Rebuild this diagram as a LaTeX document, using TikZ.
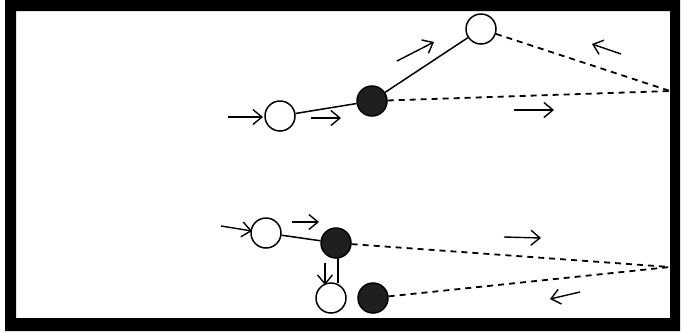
\documentclass[tikz,border=0pt]{standalone}
\usetikzlibrary{arrows.meta}
\begin{document}
\begin{tikzpicture}[x=1pt,y=-1pt,
  opencirc/.style={circle,draw=black,fill=white,line width=1.5pt,minimum size=30pt,inner sep=0pt},
  fullcirc/.style={circle,draw=black,fill=black!88,line width=1.5pt,minimum size=30pt,inner sep=0pt},
  link/.style={line width=1.5pt},
  dashlink/.style={line width=1.8pt,dash pattern=on 6pt off 5pt},
  flow/.style={line width=1.4pt,-{Straight Barb[length=9pt,width=15pt,line width=1.4pt]}}]
\useasboundingbox (0,0) rectangle (682,333);
% frame
\fill[black,even odd rule] (5,0) rectangle (680,331) (16,11) rectangle (670,318);
% top group
\node[opencirc] (a) at (280,116) {};
\node[fullcirc] (b) at (372,101) {};
\node[opencirc] (c) at (481,29) {};
\coordinate (p1) at (670,91);
\draw[link] (a) -- (b);
\draw[link] (b) -- (c);
\draw[dashlink] (b) -- (p1);
\draw[dashlink] (c) -- (p1);
\draw[flow] (228,117) -- (263,117);
\draw[flow] (311,118) -- (341,118);
\draw[flow] (397,61) -- (434,42);
\draw[flow] (621,54) -- (592,44);
\draw[flow] (514,110) -- (554,110);
% bottom group
\node[opencirc] (d) at (266,233) {};
\node[fullcirc] (e) at (336,243) {};
\node[opencirc] (f) at (331,298) {};
\node[fullcirc] (g) at (373,298) {};
\coordinate (p2) at (670,267);
\coordinate (es) at (338,258);
\coordinate (fe) at (338,283);
\draw[link] (d) -- (e);
\draw[link] (es) -- (fe);
\draw[dashlink] (e) -- (p2);
\draw[dashlink] (g) -- (p2);
\draw[flow] (221,226) -- (252,231);
\draw[flow] (292,222) -- (319,222);
\draw[flow] (325,263) -- (325,285);
\draw[flow] (504,237) -- (541,238);
\draw[flow] (580,292) -- (550,299);
\end{tikzpicture}
\end{document}
